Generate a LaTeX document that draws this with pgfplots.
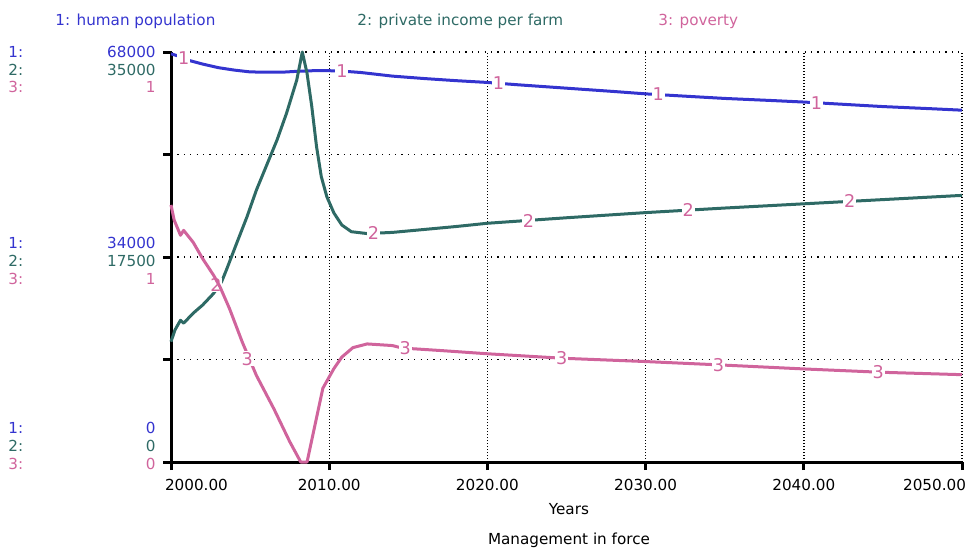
\documentclass[border=0pt]{standalone}
\usepackage{fontspec}
\setmainfont{DejaVu Sans}
\usepackage{pgfplots}
\pgfplotsset{compat=1.18}

\definecolor{popblue}{HTML}{3434CF}
\definecolor{incgreen}{HTML}{2E6A65}
\definecolor{povpink}{HTML}{D0649C}
\newcommand\lbl{\fontsize{7.6}{9}\selectfont}
\newcommand\curvelbl{\fontsize{8.8}{10}\selectfont}

% common frame shared by the overlaid axes
\pgfplotsset{
  frame/.style={
    scale only axis, width=395.5pt, height=205pt,
    at={(85.5pt,45.5pt)}, anchor=south west,
    xmin=2000, xmax=2050, ymin=0, clip=false,
    scaled y ticks=false,
  },
  curvelabels/.style={
    draw=none, mark=none,
    nodes near coords={#1},
    every node near coord/.append style={anchor=center, fill=white,
      text=povpink, inner sep=0.4pt, font=\curvelbl},
  },
}

\begin{document}
\begin{tikzpicture}[x=0.5pt,y=0.5pt]
\path[use as bounding box] (0,0) rectangle (967,553);

% series names along the top
\node[anchor=west, inner sep=0, text=popblue,  font=\lbl] at (55,532) {1: human population};
\node[anchor=west, inner sep=0, text=incgreen, font=\lbl] at (357,532) {2: private income per farm};
\node[anchor=west, inner sep=0, text=povpink,  font=\lbl] at (658,532) {3: poverty};

% vertical dotted grid
\begin{axis}[frame, ymax=1,
  xtick={2010,2020,2030,2040,2050}, ytick=\empty,
  xmajorgrids=true, xticklabels={},
  grid style={draw=black, line width=0.7pt, dash pattern=on 0.7pt off 0.8pt},
  axis line style={draw=none}, tick style={draw=none}]
\end{axis}

% 1: human population, with frame, ticks and horizontal grid
\begin{axis}[frame, ymax=68000,
  axis x line=bottom, axis y line=left,
  axis line style={-, line width=1.5pt, black},
  tick style={black, line width=1.5pt},
  tick align=outside, major tick length=4pt,
  ytick={0,17000,34000,51000,68000}, yticklabels={},
  ymajorgrids,
  grid style={black, line width=0.6pt, dash pattern=on 0.6pt off 2.6pt},
  xtick={2000,2010,2020,2030,2040,2050},
  xticklabels={\makebox[0pt][l]{\hspace{-3pt}2000.00},2010.00,2020.00,2030.00,2040.00,\makebox[0pt][r]{2050.00\hspace{-2pt}}},
  x tick label style={font=\lbl, yshift=-1pt},
  xlabel={Years},
  xlabel style={at={(axis description cs:0.503,0)}, anchor=center, yshift=-23.5pt, font=\lbl},
]
\addplot[popblue, line width=1.5pt, line join=round] coordinates {
(2000,67700) (2000.5,67300) (2001,66700) (2002,66000) (2003,65400)
(2004,65000) (2005,64700) (2006,64650) (2007,64650) (2008,64800)
(2009,64900) (2010,64900) (2011,64800) (2012,64600) (2013,64300)
(2014,64000) (2016,63600) (2018,63250) (2020,62950) (2022,62550)
(2025,62000) (2028,61450) (2030,61060) (2032,60750) (2035,60300)
(2038,59950) (2040,59700) (2042,59400) (2045,58950) (2048,58600)
(2050,58350)
};
\addplot[curvelabels=1] coordinates {
(2000.8,67000) (2010.8,64800) (2020.7,62800) (2030.8,60950) (2040.8,59600)
};
\end{axis}

% 2: private income per farm
\begin{axis}[frame, ymax=35000, hide axis]
\addplot[incgreen, line width=1.5pt, line join=round] coordinates {
(2000.0,10270) (2000.25,11270) (2000.6,12100) (2000.8,11850) (2001.4,12700)
(2002.0,13400) (2002.7,14400) (2003.2,15390) (2003.5,16390) (2004.15,18670)
(2004.8,20920) (2005.4,23220) (2006.05,25350) (2006.7,27480) (2007.3,29760)
(2007.95,32610) (2008.3,35000) (2008.6,33180) (2008.9,30330) (2009.2,26920)
(2009.5,24360) (2009.85,22650) (2010.3,21250) (2010.8,20230) (2011.4,19660)
(2012.4,19500) (2014,19600) (2016,19850) (2018,20100) (2020,20380)
(2025,20850) (2030,21290) (2035,21680) (2040,22040) (2045,22400)
(2050,22760)
};
\addplot[curvelabels=2] coordinates {
(2002.85,15100) (2012.8,19550) (2022.6,20600) (2032.7,21500) (2042.9,22250)
};
\end{axis}

% 3: poverty
\begin{axis}[frame, ymax=1, hide axis]
\addplot[povpink, line width=1.5pt, line join=round] coordinates {
(2000.0,0.627) (2000.2,0.590) (2000.6,0.553) (2000.8,0.565) (2001.4,0.536)
(2002.0,0.496) (2002.7,0.455) (2003.1,0.427) (2003.7,0.374) (2004.5,0.293)
(2005.4,0.211) (2006.5,0.130) (2007.5,0.050) (2008.2,0.0) (2008.6,0.0)
(2009.1,0.090) (2009.6,0.180) (2010.3,0.228) (2010.8,0.256) (2011.5,0.279)
(2012.4,0.288) (2014,0.284) (2014.6,0.278) (2017,0.272) (2020,0.264)
(2024.8,0.253) (2030,0.245) (2034.6,0.237) (2040,0.227) (2044.8,0.219)
(2050,0.213)
};
\addplot[curvelabels=3] coordinates {
(2004.82,0.252) (2014.8,0.278) (2024.7,0.253) (2034.6,0.237) (2044.7,0.219)
};
\end{axis}

% scale readouts on the left: series number and value at each marked level
\foreach \ya/\yb/\yc/\va/\vb/\vc in {501/483.5/466/68000/35000/1,
                                    310/292.5/274/34000/17500/1,
                                    125/107/89/0/0/0}{
  \node[anchor=west, inner sep=0, text=popblue,  font=\lbl] at (8,\ya) {1:};
  \node[anchor=west, inner sep=0, text=incgreen, font=\lbl] at (8,\yb) {2:};
  \node[anchor=west, inner sep=0, text=povpink,  font=\lbl] at (8,\yc) {3:};
  \node[anchor=east, inner sep=0, text=popblue,  font=\lbl] at (156,\ya) {\va};
  \node[anchor=east, inner sep=0, text=incgreen, font=\lbl] at (156,\yb) {\vb};
  \node[anchor=east, inner sep=0, text=povpink,  font=\lbl] at (156,\yc) {\vc};
}

\node[inner sep=0, font=\lbl] at (569,13) {Management in force};
\end{tikzpicture}
\end{document}
